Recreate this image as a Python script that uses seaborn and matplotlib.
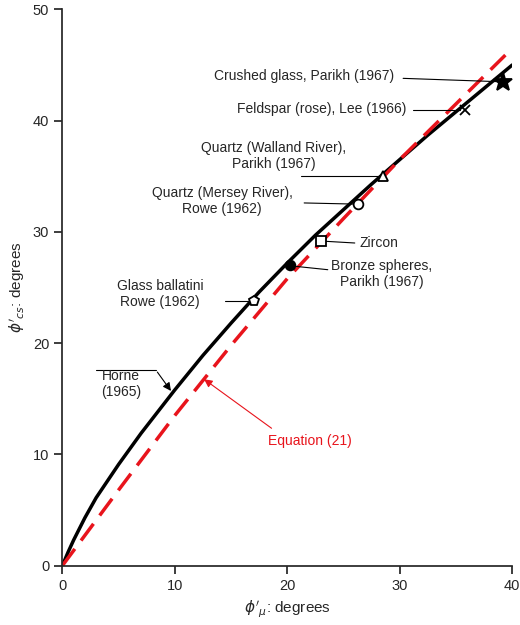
import matplotlib
matplotlib.use("Agg")
import matplotlib.pyplot as plt
import seaborn as sns

sns.set_theme(style="ticks")
plt.rcParams['font.family'] = ['Liberation Sans', 'DejaVu Sans']

horne_x = [0, 0.5, 1, 2, 3, 5, 7, 10, 12.5, 15, 17.5, 20, 22.5, 25, 27.5, 30, 32.5, 35, 37.5, 40]
horne_y = [0, 1.2, 2.3, 4.3, 6.1, 9.1, 11.9, 15.8, 18.9, 21.8, 24.6, 27.2, 29.7, 32.0, 34.3, 36.5, 38.7, 40.8, 42.9, 45.0]
eq_x = [0, 5, 10, 15, 20, 25, 30, 35, 40]
eq_y = [0, 6.8, 13.5, 19.8, 25.8, 31.2, 36.5, 41.5, 46.5]

pt_x = [39.2, 35.8, 28.5, 26.3, 23.0, 20.2, 17.0]
pt_y = [43.5, 41.0, 35.0, 32.5, 29.2, 27.0, 23.8]
pt_m = ['*', 'x', '^', 'o', 's', 'o', 'p']
pt_fill = [True, True, False, False, False, True, False]
pt_s = [14, 7, 7, 7, 7, 7, 7]

labels = ["Crushed glass, Parikh (1967)", "Feldspar (rose), Lee (1966)",
          "Quartz (Walland River),\nParikh (1967)", "Quartz (Mersey River),\nRowe (1962)",
          "Zircon", "Bronze spheres,\nParikh (1967)", "Glass ballatini\nRowe (1962)"]
lab_xy = [(13.5, 44.0), (15.5, 41.0), (18.8, 36.8), (14.2, 32.8), (26.4, 29.0), (23.9, 26.2), (8.7, 24.4)]
lab_ha = ['left', 'left', 'center', 'center', 'left', 'left', 'center']
line_start = [(30.3, 43.8), (31.2, 41.0), (21.2, 35.0), (21.5, 32.6), (26.0, 29.0), (23.6, 26.6), (14.5, 23.8)]

fig, ax = plt.subplots(figsize=(5.2, 6.25), dpi=100)
sns.lineplot(x=horne_x, y=horne_y, ax=ax, color='black', lw=2.5, sort=False)
sns.lineplot(x=eq_x, y=eq_y, ax=ax, color='#e8141c', lw=2.5, sort=False, linestyle=(0, (6, 3)))

for x, y, m, f, s, ls in zip(pt_x, pt_y, pt_m, pt_fill, pt_s, line_start):
    ax.plot([ls[0], x - 0.4], [ls[1], y], color='black', lw=0.8)
    ax.plot(x, y, marker=m, ms=s, mec='black', mfc='black' if f else 'white', mew=1.3, ls='none')

for t, (lx, ly), ha in zip(labels, lab_xy, lab_ha):
    ax.text(lx, ly, t, ha=ha, va='center', fontsize=10, multialignment='center')

ax.text(5.2, 16.3, "Horne\n(1965)", ha='center', va='center', fontsize=10)
ax.plot([3.0, 8.3], [17.6, 17.6], color='black', lw=0.8)
ax.annotate("", xy=(9.8, 15.5), xytext=(8.3, 17.6),
            arrowprops=dict(arrowstyle='-|>', color='black', lw=0.8))
ax.text(22, 11.2, "Equation (21)", color='#e8141c', ha='center', va='center', fontsize=10)
ax.annotate("", xy=(12.4, 16.9), xytext=(18.8, 12.2),
            arrowprops=dict(arrowstyle='-|>', color='#e8141c', lw=0.8))

ax.set_xlim(0, 40)
ax.set_ylim(0, 50)
ax.set_xticks([0, 10, 20, 30, 40])
ax.set_yticks([0, 10, 20, 30, 40, 50])
ax.set_xlabel(r"$\phi'_{\mu}$: degrees", fontsize=11)
ax.set_ylabel(r"$\phi'_{cs}$: degrees", fontsize=11)
ax.tick_params(labelsize=10.5, direction='out')
for s in ['top', 'right']:
    ax.spines[s].set_visible(False)
fig.subplots_adjust(left=0.12, right=0.985, top=0.985, bottom=0.095)
fig.savefig("out.png")
